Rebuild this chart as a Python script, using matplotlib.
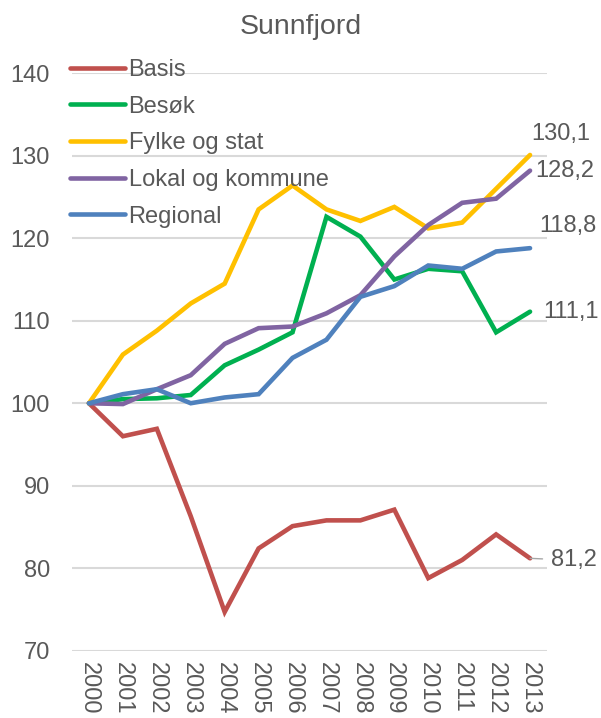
import matplotlib
matplotlib.use("Agg")
import matplotlib.pyplot as plt

plt.rcParams['font.family'] = ['Liberation Sans', 'DejaVu Sans']

# Data
years = ['2000', '2001', '2002', '2003', '2004', '2005', '2006',
         '2007', '2008', '2009', '2010', '2011', '2012', '2013']
basis = [100, 96.0, 96.9, 86.3, 74.7, 82.4, 85.1, 85.8, 85.8, 87.1, 78.8, 81.0, 84.1, 81.2]
besok = [100, 100.5, 100.6, 101.0, 104.6, 106.5, 108.6, 122.6, 120.2, 115.0, 116.3, 116.0, 108.6, 111.1]
fylke = [100, 105.9, 108.8, 112.1, 114.5, 123.5, 126.4, 123.5, 122.1, 123.8, 121.2, 121.9, 126.0, 130.1]
lokal = [100, 99.9, 101.7, 103.4, 107.2, 109.1, 109.3, 110.9, 113.1, 117.8, 121.6, 124.3, 124.8, 128.2]
regional = [100, 101.1, 101.7, 100.0, 100.7, 101.1, 105.5, 107.7, 112.9, 114.2, 116.7, 116.3, 118.4, 118.8]

series_names = ['Basis', 'Besøk', 'Fylke og stat', 'Lokal og kommune', 'Regional']
series_values = [basis, besok, fylke, lokal, regional]
colors = ['#C0504D', '#00B050', '#FFC000', '#8064A2', '#4F81BD']
end_labels = ['81,2', '111,1', '130,1', '128,2', '118,8']

txt = '#595959'
fs = 17

fig = plt.figure(figsize=(6.01, 7.18), dpi=100)
ax = fig.add_axes([72/601, 1-650.7/718, 475/601, (650.7-73.3)/718])

x = list(range(len(years)))
for name, vals, c in zip(series_names, series_values, colors):
    ax.plot(x, vals, color=c, lw=3.3, label=name, solid_capstyle='round',
            solid_joinstyle='miter')

ax.set_xlim(-0.5, len(years) - 0.5)
ax.set_ylim(70, 140)
ax.set_yticks(range(70, 141, 10))
ax.set_xticks(x)
ax.set_xticklabels(years, rotation=270, fontsize=fs, color=txt)
ax.tick_params(axis='y', labelsize=fs, colors=txt, length=0, pad=16)
ax.tick_params(axis='x', length=0, pad=8)
ax.grid(axis='y', color='#D9D9D9', lw=1.5)
ax.set_axisbelow(True)
for s in ax.spines.values():
    s.set_visible(False)

# end-of-line labels
last = len(years) - 1
ax.annotate(end_labels[2], (last, fylke[-1]), xytext=(22, 15), textcoords='offset points',
            fontsize=fs, color=txt, ha='center', va='center')
ax.annotate(end_labels[3], (last, lokal[-1]), xytext=(3.5, 0), textcoords='offset points',
            fontsize=fs, color=txt, ha='left', va='center')
ax.annotate(end_labels[4], (last, regional[-1]), xytext=(27, 16), textcoords='offset points',
            fontsize=fs, color=txt, ha='center', va='center')
ax.annotate(end_labels[1], (last, besok[-1]), xytext=(9.5, 0), textcoords='offset points',
            fontsize=fs, color=txt, ha='left', va='center')
ax.annotate(end_labels[0], (last, basis[-1]), xytext=(15, -1.5), textcoords='offset points',
            fontsize=fs, color=txt, ha='left', va='center',
            arrowprops=dict(arrowstyle='-', color='#A6A6A6', lw=1, shrinkA=4, shrinkB=0))

leg = ax.legend(loc='upper left', bbox_to_anchor=(-0.024, 1.041), frameon=False,
                fontsize=fs, handlelength=2.33, handletextpad=0.15, labelspacing=0.62,
                borderaxespad=0)
for t in leg.get_texts():
    t.set_color(txt)

fig.text(0.5, 1-27/718, 'Sunnfjord', ha='center', va='center', fontsize=20.5, color=txt)

fig.savefig('out.png', dpi=100)
